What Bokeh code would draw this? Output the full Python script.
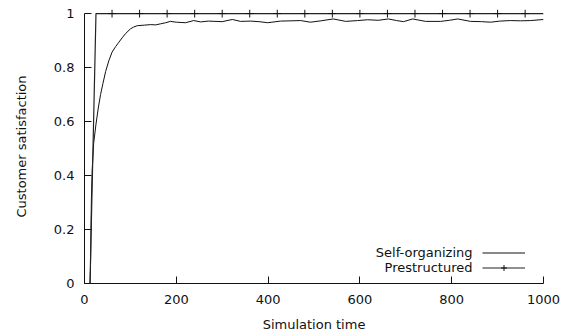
from bokeh.plotting import figure
from bokeh.models import Range1d, FixedTicker, Legend, LegendItem, Label
from bokeh.embed import file_html
from bokeh.resources import INLINE

# ---- data ----
self_time = [0, 12, 13, 15, 17, 20, 25, 30, 35, 40,
             46, 53, 60, 68, 75, 82, 89, 100, 107, 115,
             130, 144, 155, 166, 177, 187, 200, 220, 238, 253,
             270, 300, 322, 340, 362, 380, 399, 427, 450, 471,
             492, 515, 542, 569, 595, 617, 640, 662, 680, 695,
             715, 743, 776, 795, 813, 841, 865, 885, 905, 928,
             950, 972, 1000]
self_value = [0, 0, 0.05, 0.31, 0.43, 0.52, 0.59, 0.65, 0.70, 0.74,
              0.785, 0.825, 0.857, 0.878, 0.894, 0.91, 0.925, 0.943, 0.95, 0.955,
              0.957, 0.959, 0.958, 0.962, 0.966, 0.971, 0.968, 0.966, 0.974, 0.969,
              0.972, 0.970, 0.978, 0.971, 0.972, 0.970, 0.966, 0.972, 0.973, 0.974,
              0.968, 0.973, 0.980, 0.971, 0.974, 0.977, 0.975, 0.980, 0.974, 0.970,
              0.980, 0.971, 0.971, 0.975, 0.980, 0.971, 0.970, 0.968, 0.972, 0.974,
              0.973, 0.974, 0.978]

pre_time = [0, 12, 25, 1000]
pre_value = [0, 0, 1, 1]
pre_mark_time = [0, 60, 120, 180, 240, 300, 360, 420, 480, 540,
                 600, 660, 720, 780, 840, 900, 960]
pre_mark_value = [0, 1, 1, 1, 1, 1, 1, 1, 1, 1,
                  1, 1, 1, 1, 1, 1, 1]

x_ticks = [0, 200, 400, 600, 800, 1000]
y_ticks = [0, 0.2, 0.4, 0.6, 0.8, 1]
y_tick_labels = ["0", "0.2", "0.4", "0.6", "0.8", "1"]

series_names = ["Self-organizing", "Prestructured"]

FONT = "DejaVu Sans"
INK = "#111111"

p = figure(width=569, height=334, output_backend="svg", toolbar_location=None,
           x_range=Range1d(0, 1000), y_range=Range1d(0, 1.015),
           min_border_left=84, min_border_right=26, min_border_top=9,
           min_border_bottom=51)
p.background_fill_color = "white"
p.border_fill_color = "white"
p.outline_line_color = None
p.grid.visible = False

l1 = p.line(self_time, self_value, line_color=INK, line_width=1)
l2 = p.line(pre_time, pre_value, line_color="#222222", line_width=1.2)
m2 = p.scatter(pre_mark_time, pre_mark_value, marker="cross", size=8,
               line_color=INK, line_width=1)

for ax in (p.xaxis[0], p.yaxis[0]):
    ax.axis_line_color = INK
    ax.axis_line_width = 1
    ax.major_tick_in = 7
    ax.major_tick_out = 0
    ax.major_tick_line_color = INK
    ax.minor_tick_line_color = None
    ax.major_label_text_font = FONT
    ax.major_label_text_font_size = "13px"
    ax.major_label_text_color = INK
    ax.axis_label_text_font = FONT
    ax.axis_label_text_font_size = "13px"
    ax.axis_label_text_font_style = "normal"
    ax.axis_label_text_color = INK

p.xaxis[0].ticker = FixedTicker(ticks=x_ticks)
p.xaxis[0].bounds = (0, 1000)
p.xaxis[0].axis_label = "Simulation time"
p.xaxis[0].major_label_standoff = 11
p.xaxis[0].axis_label_standoff = 10

p.yaxis[0].ticker = FixedTicker(ticks=y_ticks)
p.yaxis[0].major_label_overrides = {t: s for t, s in zip(y_ticks, y_tick_labels)}
p.yaxis[0].bounds = (0, 1)
p.yaxis[0].axis_label = "Customer satisfaction"
p.yaxis[0].major_label_standoff = 10
p.yaxis[0].axis_label_standoff = 22

legend = Legend(items=[LegendItem(label=series_names[0], renderers=[l1]),
                       LegendItem(label=series_names[1], renderers=[l2, m2])],
                location=(398, 8), glyph_width=43, glyph_height=15,
                label_height=15, label_standoff=0, label_width=0,
                label_text_font_size="1px", label_text_alpha=0,
                spacing=0, padding=0, margin=0,
                border_line_color=None, background_fill_alpha=0)
p.add_layout(legend)

for name, yy in zip(series_names, [31, 16]):
    p.add_layout(Label(x=388, y=yy, x_units="screen", y_units="screen",
                       text=name, text_align="right", text_baseline="middle",
                       text_font=FONT, text_font_size="13px", text_color=INK))

open("out.html", "w").write(file_html(p, INLINE))
